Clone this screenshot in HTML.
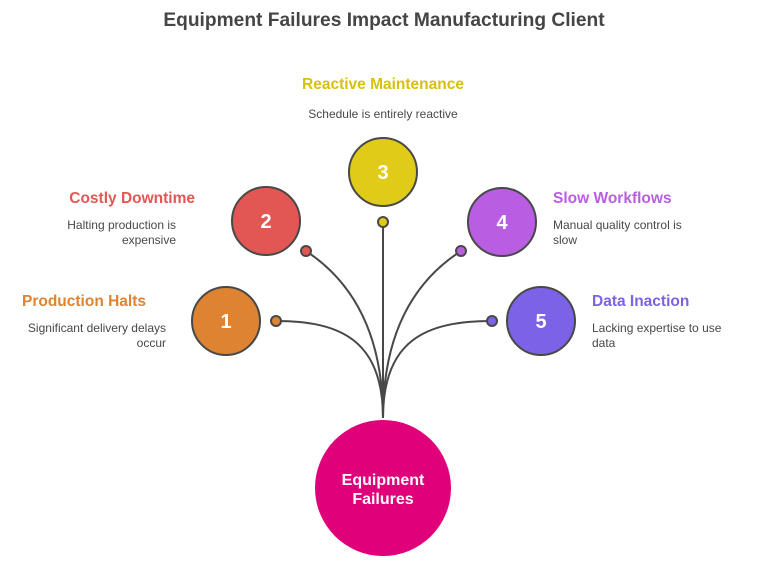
<!DOCTYPE html>
<html><head><style>
body{margin:0;background:#fff;}
</style></head><body>
<svg width="768" height="582" viewBox="0 0 768 582" xmlns="http://www.w3.org/2000/svg" font-family="Liberation Sans, sans-serif">
<text x="384" y="26" text-anchor="middle" font-size="19.2" font-weight="bold" fill="#454545">Equipment Failures Impact Manufacturing Client</text>
<g fill="none" stroke="#484848" stroke-width="2">
<path d="M276,321 C340,321 383,340 383,418"/>
<path d="M306,251 C350,280 383,330 383,418"/>
<path d="M383,222 L383,418"/>
<path d="M461,251 C416,280 383,330 383,418"/>
<path d="M492,321 C426,321 383,340 383,418"/>
</g>
<g stroke="#484848" stroke-width="2">
<circle cx="226" cy="321" r="34" fill="#dd8331"/>
<circle cx="266" cy="221" r="34" fill="#e25753"/>
<circle cx="383" cy="172" r="34" fill="#dfcb18"/>
<circle cx="502" cy="222" r="34" fill="#b95ee2"/>
<circle cx="541" cy="321" r="34" fill="#7c62e6"/>
<circle cx="276" cy="321" r="5" fill="#dd8331"/>
<circle cx="306" cy="251" r="5" fill="#e25753"/>
<circle cx="383" cy="222" r="5" fill="#dfcb18"/>
<circle cx="461" cy="251" r="5" fill="#b95ee2"/>
<circle cx="492" cy="321" r="5" fill="#7c62e6"/>
</g>
<circle cx="383" cy="488" r="68" fill="#e0007a"/>
<g fill="#fff" font-weight="bold" font-size="20" text-anchor="middle">
<text x="226" y="328">1</text><text x="266" y="228">2</text><text x="383" y="179">3</text><text x="502" y="229">4</text><text x="541" y="328">5</text>
<text x="383" y="485" font-size="16">Equipment</text><text x="383" y="504" font-size="16">Failures</text>
</g>
<g font-weight="bold" font-size="15.5">
<text x="383" y="89" text-anchor="middle" fill="#d7c012">Reactive Maintenance</text>
<text x="195" y="203" text-anchor="end" fill="#e25753">Costly Downtime</text>
<text x="146" y="306" text-anchor="end" fill="#dd8331">Production Halts</text>
<text x="553" y="203" fill="#b95ee2">Slow Workflows</text>
<text x="592" y="306" fill="#7c62e6">Data Inaction</text>
</g>
<g font-size="12" fill="#484848">
<text x="383" y="118" text-anchor="middle">Schedule is entirely reactive</text>
<text x="176" y="229" text-anchor="end">Halting production is</text>
<text x="176" y="244" text-anchor="end">expensive</text>
<text x="166" y="332" text-anchor="end">Significant delivery delays</text>
<text x="166" y="347" text-anchor="end">occur</text>
<text x="553" y="229">Manual quality control is</text>
<text x="553" y="244">slow</text>
<text x="592" y="332">Lacking expertise to use</text>
<text x="592" y="347">data</text>
</g>
</svg>
</body></html>
